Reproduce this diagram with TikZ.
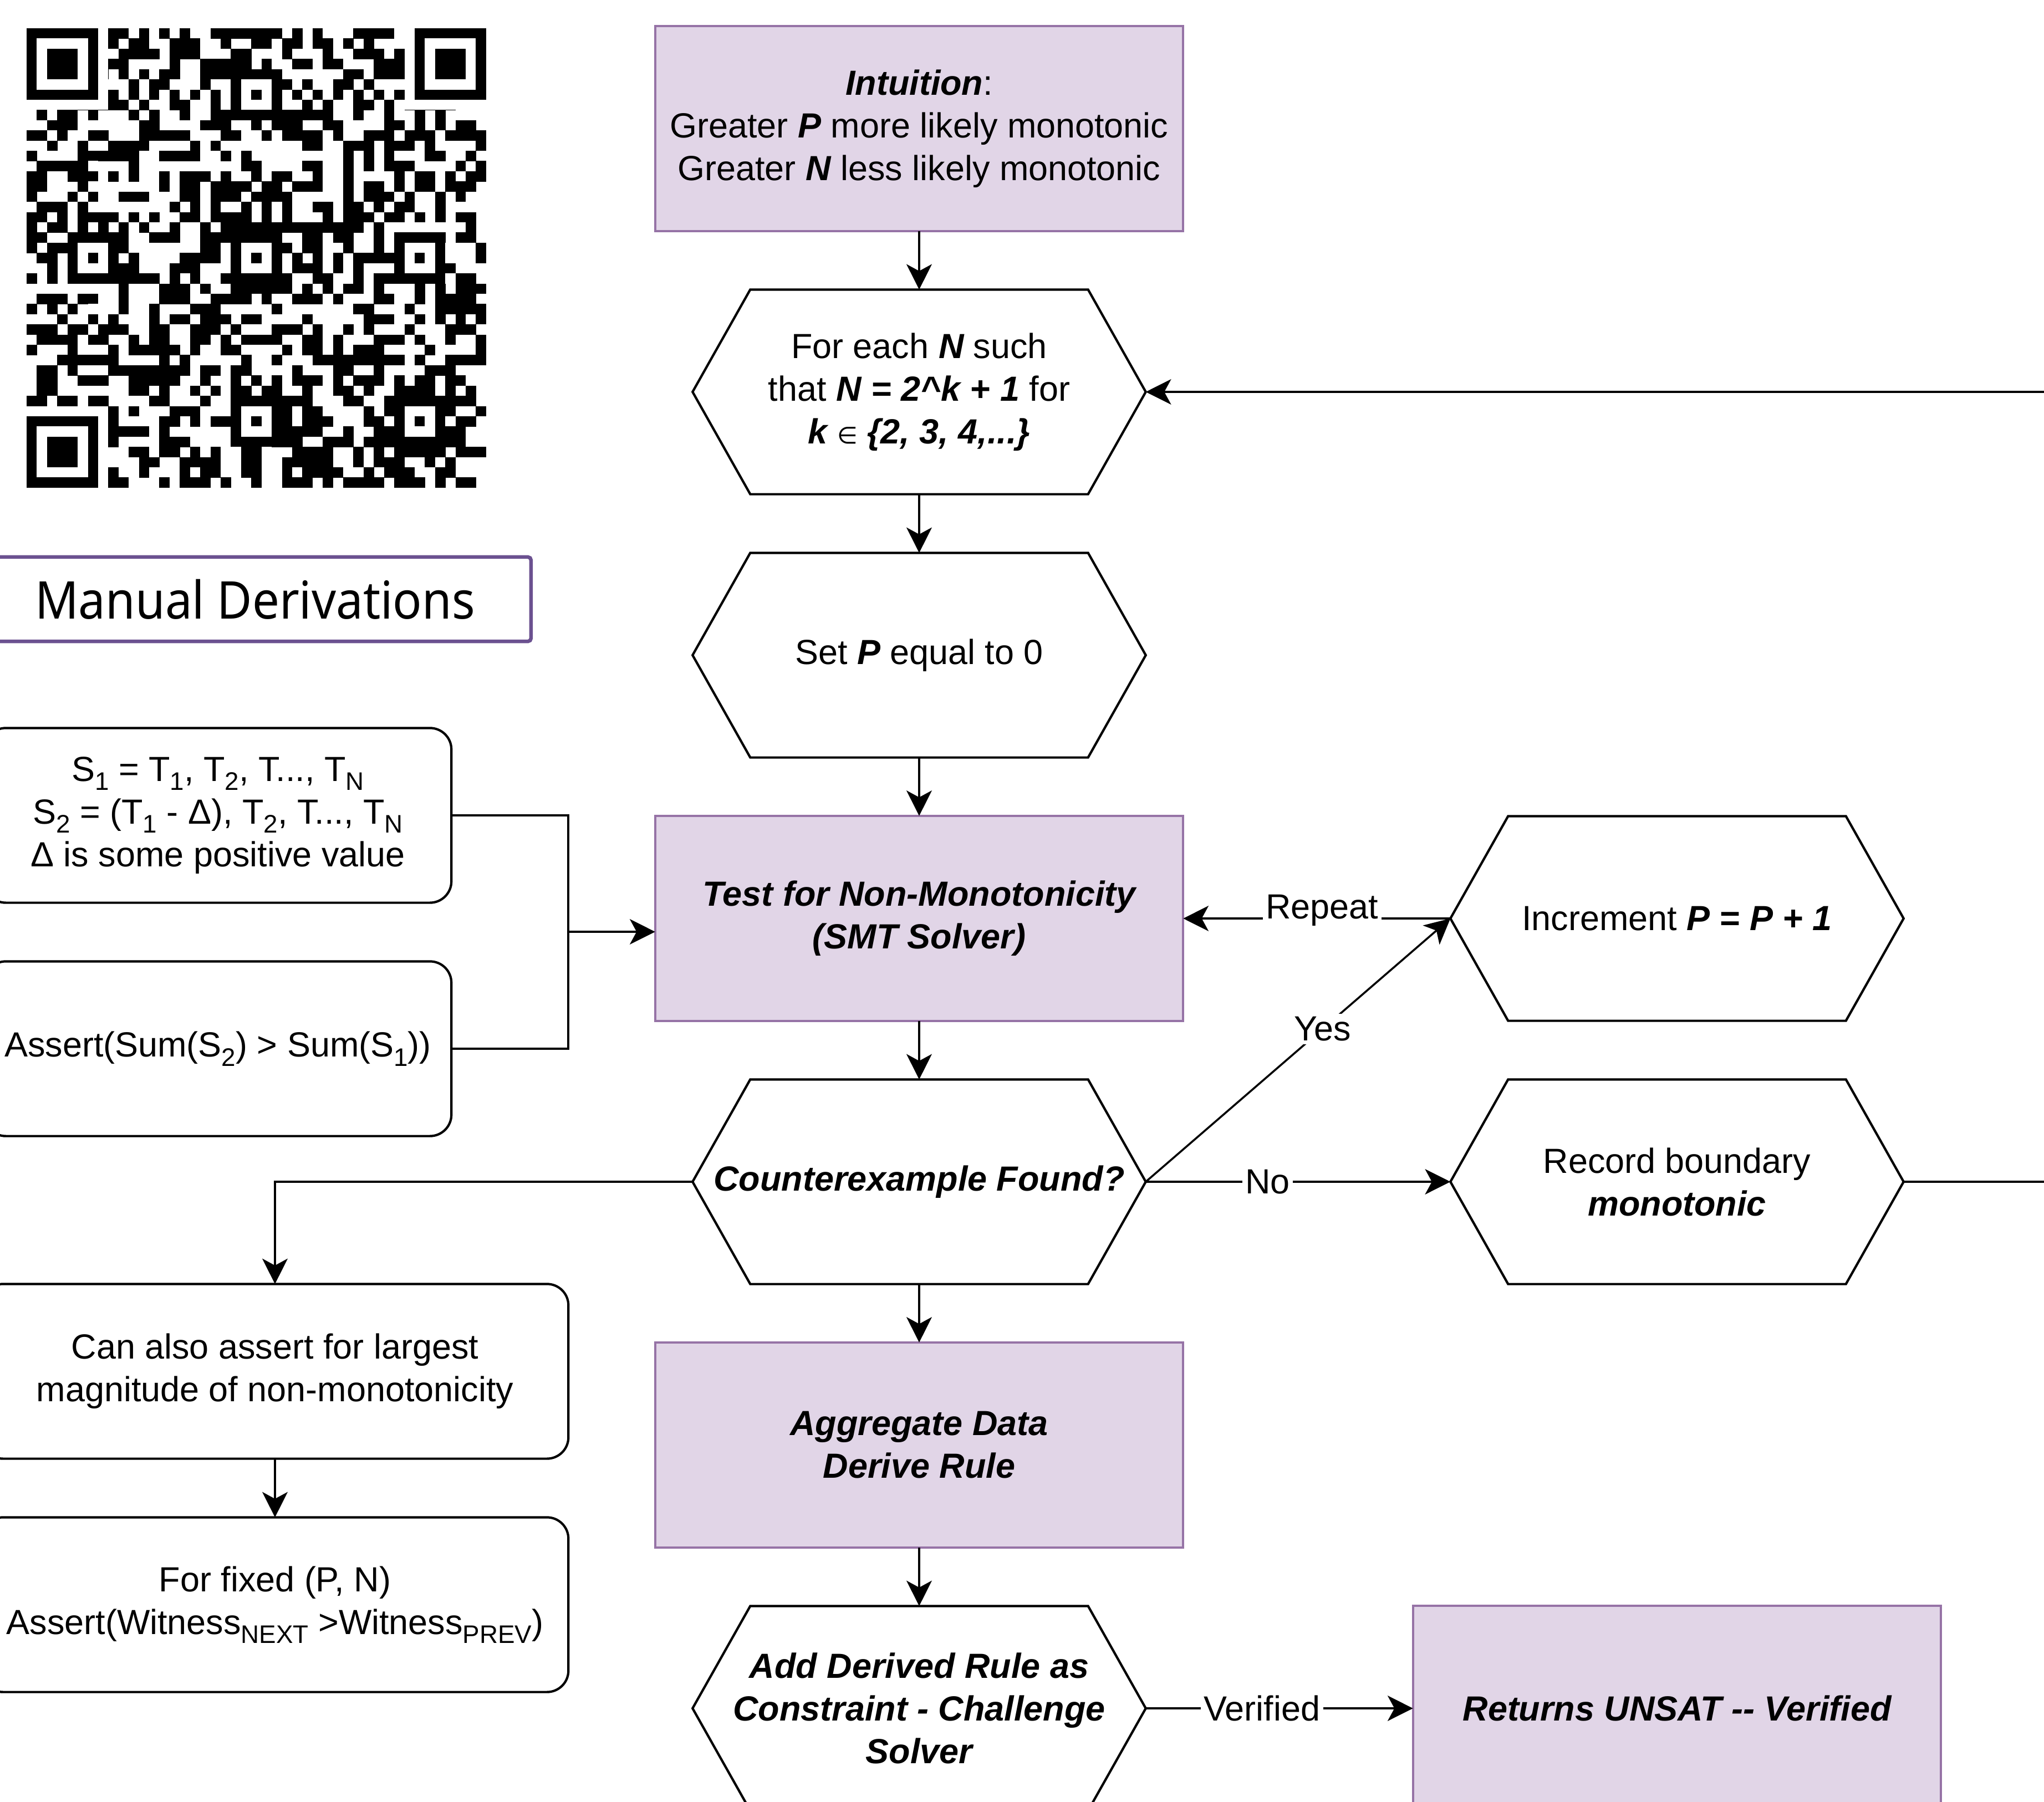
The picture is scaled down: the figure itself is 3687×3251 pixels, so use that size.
\documentclass[tikz,border=0pt]{standalone}
\usepackage{fontspec}
\setmainfont{Liberation Sans}
\newfontfamily\mdfont[FakeStretch=0.925]{Noto Sans}
\newfontfamily\dvs{DejaVu Sans}
\usetikzlibrary{arrows.meta}
\definecolor{pfill}{HTML}{E1D5E7}
\definecolor{pline}{HTML}{9673A6}
\definecolor{mline}{HTML}{6B5190}
\newcommand\ft{\fontsize{17.9}{21.9}\selectfont}
\newcommand\bix[1]{{\bfseries\itshape #1}}
\newcommand\sbs[1]{\raisebox{-0.26em}{\fontsize{13}{13}\selectfont #1}}
\newcommand\hexnode[3]{%
  \node[hexbox] (#1) at (#2) {#3};
  \draw[hexline] ([xshift=10.4mm]#1.north west) -- ([xshift=-10.4mm]#1.north east) -- (#1.east)
    -- ([xshift=-10.4mm]#1.south east) -- ([xshift=10.4mm]#1.south west) -- (#1.west) -- cycle;}
\def\qm{18.42}
\def\qx{48}
\def\qy{51}
\begin{document}
\begin{tikzpicture}[x=0.01cm,y=-0.01cm,
  purplebox/.style={draw=pline, fill=pfill, line width=1.1pt, minimum width=95.2mm, minimum height=37mm, inner sep=0pt, outer sep=0pt, align=center, font=\ft},
  hexbox/.style={minimum width=81.7mm, minimum height=36.9mm, inner sep=0pt, outer sep=0pt, align=center, font=\ft},
  hexline/.style={draw=black, line width=1.2pt, line join=miter},
  roundbox/.style={draw=black, line width=1.2pt, rounded corners=11pt, minimum height=31.5mm, inner sep=0pt, outer sep=0pt, align=center, font=\ft},
  conn/.style={draw=black, line width=1pt},
  arr/.style={conn, -{Stealth[length=13pt, width=13pt, inset=3.5pt]}},
  lbl/.style={fill=white, inner sep=1.5pt, font=\ft}]
\useasboundingbox (0,0) rectangle (3687,3251);
\clip (0,0) rectangle (3687,3251);
\fill[white] (0,0) rectangle (3687,3251);

% ---------- QR code ----------
\pgfmathsetseed{12345}
\foreach \r in {0,...,44}{\foreach \c in {0,...,44}{%
  \pgfmathrandominteger{\qb}{0}{1}%
  \ifnum\qb=1 \fill[black] ({\qx+\c*\qm},{\qy+\r*\qm}) rectangle ++(18.7,18.7);\fi
}}
\foreach \fr/\fc in {0/0,0/38,38/0}{
  \fill[white] ({\qx+(\fc-1)*\qm},{\qy+(\fr-1)*\qm}) rectangle ++({9*\qm},{9*\qm});
  \fill[black] ({\qx+\fc*\qm},{\qy+\fr*\qm}) rectangle ++({7*\qm},{7*\qm});
  \fill[white] ({\qx+(\fc+1)*\qm},{\qy+(\fr+1)*\qm}) rectangle ++({5*\qm},{5*\qm});
  \fill[black] ({\qx+(\fc+2)*\qm},{\qy+(\fr+2)*\qm}) rectangle ++({3*\qm},{3*\qm});
}
\fill[white] ({\qx+8*\qm},{\qy+6*\qm}) rectangle ++({29*\qm},{\qm});
\fill[white] ({\qx+6*\qm},{\qy+8*\qm}) rectangle ++({\qm},{29*\qm});
\foreach \t in {8,10,...,36}{
  \fill[black] ({\qx+\t*\qm},{\qy+6*\qm}) rectangle ++({\qm},{\qm});
  \fill[black] ({\qx+6*\qm},{\qy+\t*\qm}) rectangle ++({\qm},{\qm});
}
\foreach \ar/\ac in {6/22,22/6,22/22,22/38,38/22,38/38}{
  \fill[black] ({\qx+(\ac-2)*\qm},{\qy+(\ar-2)*\qm}) rectangle ++({5*\qm},{5*\qm});
  \fill[white] ({\qx+(\ac-1)*\qm},{\qy+(\ar-1)*\qm}) rectangle ++({3*\qm},{3*\qm});
  \fill[black] ({\qx+\ac*\qm},{\qy+\ar*\qm}) rectangle ++({\qm},{\qm});
}

% ---------- Manual derivations title ----------
\node[draw=mline, line width=1.85pt, rounded corners=1.5pt, minimum width=99.5mm, minimum height=15.2mm,
      inner sep=0pt, font=\mdfont\fontsize{26.7}{30}\selectfont] (manual) at (460,1081) {Manual Derivations};

% ---------- main column ----------
\node[purplebox] (intu) at (1658,232) {\bix{Intuition}:\\Greater \bix{P} more likely monotonic\\Greater \bix{N} less likely monotonic};
\hexnode{foreach}{1658,707}{For each \bix{N} such\\that \bix{N = 2\textasciicircum k + 1} for\\\bix{k} {\dvs\fontsize{12}{12}\selectfont ∈} \bix{\{2, 3, 4,...\}}}
\hexnode{setp}{1658,1182}{Set \bix{P} equal to 0}
\node[purplebox] (test) at (1658,1657) {\bix{Test for Non-Monotonicity}\\\bix{(SMT Solver)}};
\hexnode{cex}{1658,2132}{\bix{Counterexample Found?}}
\node[purplebox] (agg) at (1658,2607) {\bix{Aggregate Data}\\\bix{Derive Rule}};
\hexnode{add}{1658,3082}{\bix{Add Derived Rule as}\\\bix{Constraint - Challenge}\\\bix{Solver}}

% ---------- right column ----------
\hexnode{inc}{3025,1657}{Increment \bix{P = P + 1}}
\hexnode{rec}{3025,2132}{Record boundary\\\bix{monotonic}}
\node[purplebox] (unsat) at (3025,3082) {\bix{Returns UNSAT -{}- Verified}};

% ---------- left column ----------
\node[roundbox, minimum width=84.2mm] (s1) at (393,1471)
  {S\sbs{1} = T\sbs{1}, T\sbs{2}, T..., T\sbs{N}\\S\sbs{2} = (T\sbs{1} - Δ), T\sbs{2}, T..., T\sbs{N}\\Δ is some positive value};
\node[roundbox, minimum width=84.2mm] (asrt) at (393,1892) {Assert(Sum(S\sbs{2}) > Sum(S\sbs{1}))};
\node[roundbox, minimum width=105.8mm] (can) at (496,2474) {Can also assert for largest\\magnitude of non-monotonicity};
\node[roundbox, minimum width=105.8mm] (fix) at (496,2895) {For fixed (P, N)\\Assert(Witness\sbs{NEXT} >Witness\sbs{PREV})};

% ---------- helper coordinates ----------
\coordinate (jn) at (1025,1681);
\coordinate (re1) at (3700,707);
\coordinate (re2) at (3700,2132);

% ---------- connectors ----------
\draw[arr] (intu) -- (foreach.north);
\draw[arr] (foreach.south) -- (setp.north);
\draw[arr] (setp.south) -- (test);
\draw[arr] (test) -- (cex.north);
\draw[arr] (cex.south) -- (agg);
\draw[arr] (agg) -- (add.north);
\draw[conn] (s1.east) -| (jn);
\draw[conn] (asrt.east) -| (jn);
\draw[arr] (jn) -- (jn -| test.west);
\draw[arr] (inc.west) -- node[lbl, pos=0.48, yshift=1.5mm] {Repeat} (test.east);
\draw[arr] (cex.east) -- node[lbl, pos=0.58] {Yes} (inc.west);
\draw[arr] (cex.east) -- node[lbl, pos=0.4] {No} (rec.west);
\draw[conn] (rec.east) -- (re2);
\draw[arr] (re1) -- (foreach.east);
\draw[arr] (cex.west) -| (can.north);
\draw[arr] (can) -- (fix);
\draw[arr] (add.east) -- node[lbl, pos=0.435] {Verified} (unsat);
\end{tikzpicture}
\end{document}
